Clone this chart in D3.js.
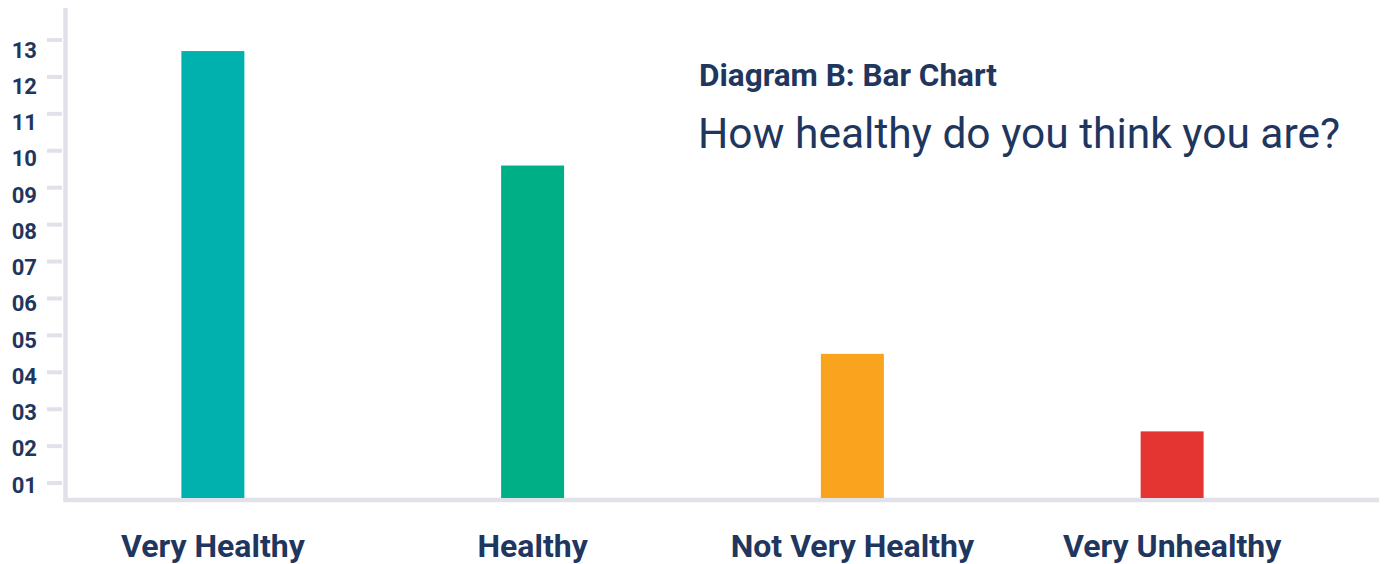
<!DOCTYPE html>
<html>
<head>
<meta charset="utf-8">
<script src="https://cdn.jsdelivr.net/npm/d3@7/dist/d3.min.js"></script>
<style>
  html, body { margin: 0; padding: 0; background: #ffffff; }
  svg { display: block; }
  text { font-family: Roboto, "Noto Sans", sans-serif; fill: #1f365f; }
</style>
</head>
<body>
<svg id="chart" width="1385" height="564"></svg>
<script>
// Survey answers: how healthy respondents think they are
const categories = ["Very Healthy", "Healthy", "Not Very Healthy", "Very Unhealthy"];
const values = [12.7, 9.6, 4.5, 2.4];
const barColors = ["#00b1ae", "#00af86", "#f9a31e", "#e53533"];
const tickValues = [1, 2, 3, 4, 5, 6, 7, 8, 9, 10, 11, 12, 13];
const tickLabels = ["01", "02", "03", "04", "05", "06", "07", "08", "09", "10", "11", "12", "13"];

const titleText = "Diagram B: Bar Chart";
const subtitleText = "How healthy do you think you are?";

const svg = d3.select("#chart");
const axisColor = "#e1e1e9";

const axisX = 65.5;      // vertical axis position
const baseY = 500;       // horizontal axis position

const x = d3.scaleBand()
  .domain(categories)
  .range([53, 1332])
  .padding(0);

const barWidth = 63;

const y = d3.scaleLinear()
  .domain([0, 13])
  .range([520, 40]);

// tick labels sit slightly below their tick marks
const yLabel = d3.scaleLinear()
  .domain([1, 13])
  .range([485, 50]);

// axes
svg.append("line")
  .attr("x1", axisX).attr("x2", axisX)
  .attr("y1", 8).attr("y2", baseY + 2)
  .attr("stroke", axisColor).attr("stroke-width", 4.5);

svg.append("line")
  .attr("x1", axisX - 2).attr("x2", 1379)
  .attr("y1", baseY).attr("y2", baseY)
  .attr("stroke", axisColor).attr("stroke-width", 4.5);

const ticks = svg.append("g");
ticks.selectAll("line")
  .data(tickValues)
  .join("line")
  .attr("x1", 47).attr("x2", 62)
  .attr("y1", d => y(d)).attr("y2", d => y(d))
  .attr("stroke", axisColor).attr("stroke-width", 4);

ticks.selectAll("text")
  .data(tickValues)
  .join("text")
  .attr("x", 37)
  .attr("y", d => yLabel(d))
  .attr("text-anchor", "end")
  .attr("dominant-baseline", "central")
  .attr("font-size", 22)
  .attr("font-weight", 700)
  .text((d, i) => tickLabels[i]);

// bars
svg.append("g").selectAll("rect")
  .data(values)
  .join("rect")
  .attr("x", (d, i) => x(categories[i]) + x.bandwidth() / 2 - barWidth / 2)
  .attr("y", d => y(d))
  .attr("width", barWidth)
  .attr("height", d => baseY - 2 - y(d))
  .attr("fill", (d, i) => barColors[i]);

// category labels
svg.append("g").selectAll("text")
  .data(categories)
  .join("text")
  .attr("x", d => x(d) + x.bandwidth() / 2)
  .attr("y", 557)
  .attr("text-anchor", "middle")
  .attr("font-size", 32)
  .attr("font-weight", 700)
  .text(d => d);

// titles
svg.append("text")
  .attr("x", 699)
  .attr("y", 86)
  .attr("font-size", 31.5)
  .attr("font-weight", 700)
  .text(titleText);

svg.append("text")
  .attr("x", 698)
  .attr("y", 148)
  .attr("font-size", 42.5)
  .attr("font-weight", 400)
  .text(subtitleText);
</script>
</body>
</html>
